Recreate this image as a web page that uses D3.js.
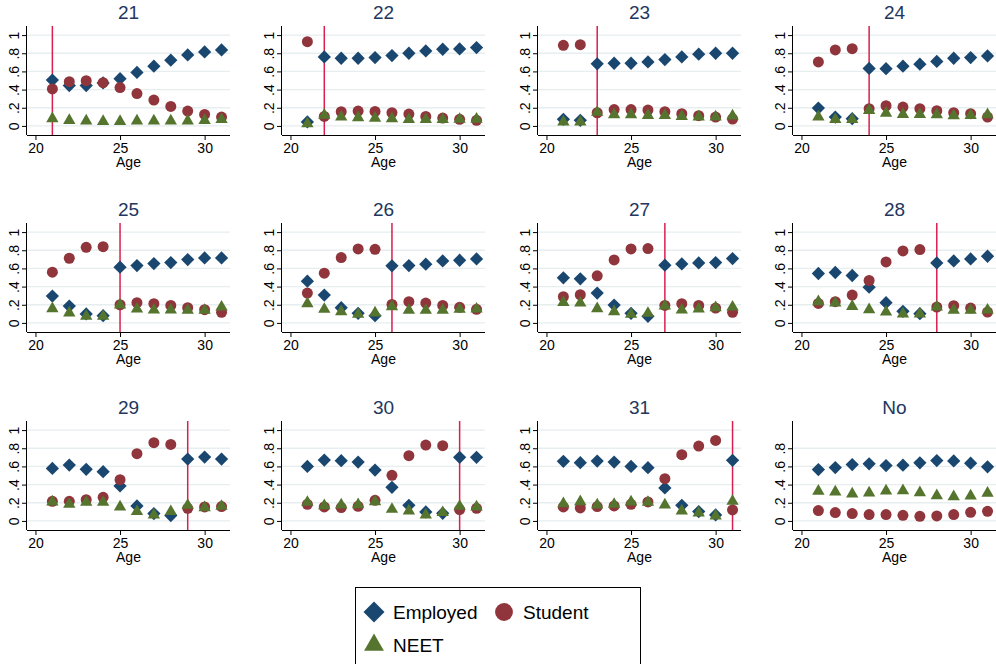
<!DOCTYPE html>
<html>
<head>
<meta charset="utf-8">
<script src="https://cdn.jsdelivr.net/npm/d3@7"></script>
<style>
  html, body { margin: 0; padding: 0; background: #fff; }
  svg { display: block; font-family: "Liberation Sans", Arial, Helvetica, sans-serif; }
</style>
</head>
<body>
<svg id="chart" width="996" height="664"></svg>
<script>
// ---- data ----
const ages = [21, 22, 23, 24, 25, 26, 27, 28, 29, 30, 31];
const panels = ["21", "22", "23", "24", "25", "26", "27", "28", "29", "30", "31", "No"];
const cutoffs = [21, 22, 23, 24, 25, 26, 27, 28, 29, 30, 31, null];
const xTicks = [20, 25, 30];
const yTicks = [0, 0.2, 0.4, 0.6, 0.8, 1];
const yTicksNo = [0, 0.2, 0.4, 0.6, 0.8];
const yTickLabels = ["0", ".2", ".4", ".6", ".8", "1"];
const seriesNames = ["Employed", "Student", "NEET"];

const employed = [
  [0.505, 0.444, 0.444, 0.473, 0.52, 0.589, 0.658, 0.724, 0.782, 0.815, 0.836],
  [0.044, 0.76, 0.745, 0.745, 0.753, 0.775, 0.80, 0.825, 0.844, 0.847, 0.862],
  [0.073, 0.062, 0.684, 0.69, 0.69, 0.705, 0.73, 0.76, 0.79, 0.80, 0.80],
  [0.196, 0.098, 0.08, 0.633, 0.63, 0.658, 0.68, 0.71, 0.745, 0.753, 0.77],
  [0.296, 0.186, 0.099, 0.08, 0.613, 0.631, 0.653, 0.664, 0.697, 0.715, 0.715],
  [0.46, 0.307, 0.168, 0.106, 0.08, 0.628, 0.631, 0.646, 0.682, 0.69, 0.704],
  [0.496, 0.485, 0.328, 0.197, 0.106, 0.073, 0.635, 0.65, 0.66, 0.664, 0.708],
  [0.544, 0.555, 0.522, 0.394, 0.223, 0.128, 0.102, 0.66, 0.682, 0.704, 0.734],
  [0.578, 0.615, 0.568, 0.542, 0.385, 0.165, 0.081, 0.059, 0.681, 0.703, 0.681],
  [0.60, 0.67, 0.663, 0.648, 0.56, 0.37, 0.172, 0.099, 0.084, 0.70, 0.70],
  [0.656, 0.641, 0.659, 0.648, 0.60, 0.586, 0.363, 0.172, 0.103, 0.066, 0.667],
  [0.565, 0.587, 0.62, 0.628, 0.609, 0.613, 0.639, 0.664, 0.661, 0.635, 0.595]
];
const student = [
  [0.407, 0.487, 0.498, 0.476, 0.422, 0.356, 0.284, 0.215, 0.164, 0.127, 0.098],
  [0.927, 0.105, 0.156, 0.164, 0.16, 0.145, 0.131, 0.105, 0.087, 0.073, 0.062],
  [0.887, 0.894, 0.145, 0.18, 0.18, 0.175, 0.156, 0.135, 0.113, 0.098, 0.076],
  [0.705, 0.836, 0.85, 0.19, 0.222, 0.207, 0.19, 0.167, 0.145, 0.135, 0.098],
  [0.558, 0.712, 0.832, 0.839, 0.20, 0.223, 0.212, 0.193, 0.168, 0.146, 0.117],
  [0.328, 0.547, 0.719, 0.814, 0.81, 0.204, 0.234, 0.219, 0.193, 0.172, 0.15],
  [0.288, 0.31, 0.518, 0.693, 0.814, 0.818, 0.193, 0.212, 0.193, 0.164, 0.117],
  [0.215, 0.234, 0.307, 0.467, 0.672, 0.792, 0.807, 0.175, 0.19, 0.164, 0.12],
  [0.216, 0.216, 0.234, 0.26, 0.454, 0.74, 0.861, 0.842, 0.139, 0.154, 0.158],
  [0.183, 0.154, 0.147, 0.161, 0.227, 0.502, 0.718, 0.835, 0.828, 0.125, 0.139],
  [0.154, 0.143, 0.158, 0.165, 0.183, 0.209, 0.465, 0.729, 0.824, 0.886, 0.121],
  [0.114, 0.092, 0.081, 0.07, 0.07, 0.062, 0.051, 0.055, 0.07, 0.095, 0.106]
];
const neet = [
  [0.08, 0.06, 0.055, 0.05, 0.05, 0.055, 0.055, 0.055, 0.055, 0.06, 0.07],
  [0.025, 0.118, 0.098, 0.09, 0.085, 0.08, 0.07, 0.07, 0.07, 0.073, 0.075],
  [0.045, 0.045, 0.15, 0.125, 0.125, 0.115, 0.115, 0.105, 0.10, 0.10, 0.11],
  [0.10, 0.07, 0.07, 0.17, 0.14, 0.127, 0.127, 0.124, 0.113, 0.116, 0.124],
  [0.157, 0.11, 0.073, 0.073, 0.197, 0.153, 0.142, 0.142, 0.139, 0.139, 0.175],
  [0.212, 0.15, 0.124, 0.095, 0.11, 0.179, 0.139, 0.139, 0.139, 0.15, 0.153],
  [0.226, 0.219, 0.157, 0.124, 0.095, 0.106, 0.186, 0.142, 0.153, 0.168, 0.175],
  [0.234, 0.219, 0.182, 0.146, 0.12, 0.099, 0.099, 0.175, 0.139, 0.139, 0.142],
  [0.209, 0.183, 0.205, 0.205, 0.154, 0.103, 0.066, 0.103, 0.172, 0.147, 0.161],
  [0.205, 0.168, 0.176, 0.179, 0.212, 0.128, 0.11, 0.066, 0.092, 0.161, 0.154],
  [0.19, 0.212, 0.176, 0.183, 0.209, 0.205, 0.176, 0.11, 0.088, 0.055, 0.216],
  [0.327, 0.319, 0.297, 0.308, 0.33, 0.334, 0.312, 0.279, 0.268, 0.275, 0.305]
];

// ---- styles ----
const colEmp = "#1a476f", colStu = "#90353b", colNeet = "#55752f";
const gridCol = "#e6eef0", refCol = "#d81f4f", titleCol = "#22365e";

const svg = d3.select("#chart");
const colLeft = [27, 282, 538, 793];
const rowTop = [26, 223, 421];
const pw = 203, ph = 109;

const diamond = d3.symbol().type(d3.symbolSquare).size(88)();
const circle = d3.symbol().type(d3.symbolCircle).size(95)();
const triangle = d3.symbol().type(d3.symbolTriangle).size(66)();

panels.forEach((name, i) => {
  const c = i % 4, r = Math.floor(i / 4);
  const g = svg.append("g").attr("transform", `translate(${colLeft[c]},${rowTop[r]})`);
  const x = d3.scaleLinear().domain([19.5, 31.5]).range([0, pw]);
  const y = d3.scaleLinear().domain([-0.1, 1.1]).range([ph, 0]);
  const yt = name === "No" ? yTicksNo : yTicks;

  // gridlines
  g.append("g").selectAll("line").data(yt).join("line")
    .attr("x1", 0).attr("x2", pw)
    .attr("y1", d => y(d)).attr("y2", d => y(d))
    .attr("stroke", gridCol).attr("stroke-width", 1.3);

  // title
  g.append("text").attr("x", pw / 2).attr("y", -7)
    .attr("text-anchor", "middle").attr("font-size", 19)
    .attr("fill", titleCol).text(name);

  // x axis
  const xa = g.append("g").attr("transform", `translate(0,${ph})`)
    .call(d3.axisBottom(x).tickValues(xTicks).tickSize(5).tickPadding(3).tickFormat(d3.format("d")));
  xa.select(".domain").attr("d", `M0,0.5H${pw}`).attr("stroke", "#000");
  xa.selectAll("text").attr("font-size", 14).attr("font-family", "Liberation Sans, Arial, sans-serif").attr("fill", "#000");
  xa.selectAll(".tick line").attr("stroke", "#000");

  g.append("text").attr("x", pw / 2).attr("y", ph + 32)
    .attr("text-anchor", "middle").attr("font-size", 14).attr("fill", "#000").text("Age");

  // y axis
  const ya = g.append("g")
    .call(d3.axisLeft(y).tickValues(yt).tickSize(5).tickFormat((d) => yTickLabels[yTicks.indexOf(d)]));
  ya.select(".domain").attr("d", `M-0.5,0V${ph}`).attr("stroke", "#000");
  ya.selectAll(".tick line").attr("stroke", "#000");
  ya.selectAll(".tick text")
    .attr("x", null).attr("dy", null)
    .attr("transform", "translate(-8,0) rotate(-90)")
    .attr("text-anchor", "middle")
    .attr("font-size", 14).attr("font-family", "Liberation Sans, Arial, sans-serif").attr("fill", "#000");

  // reference line
  if (cutoffs[i] !== null) {
    g.append("line").attr("x1", x(cutoffs[i])).attr("x2", x(cutoffs[i]))
      .attr("y1", 0).attr("y2", ph).attr("stroke", refCol).attr("stroke-width", 1.5);
  }

  // markers: Employed, Student, NEET
  g.append("g").selectAll("path").data(ages.map((a, k) => [a, employed[i][k]])).join("path")
    .attr("d", diamond).attr("fill", colEmp)
    .attr("transform", d => `translate(${x(d[0])},${y(d[1])}) rotate(45)`);
  g.append("g").selectAll("path").data(ages.map((a, k) => [a, student[i][k]])).join("path")
    .attr("d", circle).attr("fill", colStu)
    .attr("transform", d => `translate(${x(d[0])},${y(d[1])})`);
  g.append("g").selectAll("path").data(ages.map((a, k) => [a, neet[i][k]])).join("path")
    .attr("d", triangle).attr("fill", colNeet)
    .attr("transform", d => `translate(${x(d[0])},${y(d[1])})`);
});

// legend
const lg = svg.append("g");
lg.append("rect").attr("x", 355.5).attr("y", 587.5).attr("width", 285).attr("height", 90)
  .attr("fill", "#fff").attr("stroke", "#000").attr("stroke-width", 1);
const legendItems = [
  { name: seriesNames[0], sym: d3.symbol().type(d3.symbolSquare).size(220)(), col: colEmp, rot: 45, lx: 374, ly: 612 },
  { name: seriesNames[1], sym: d3.symbol().type(d3.symbolCircle).size(250)(), col: colStu, rot: 0, lx: 504, ly: 612 },
  { name: seriesNames[2], sym: d3.symbol().type(d3.symbolTriangle).size(170)(), col: colNeet, rot: 0, lx: 374, ly: 645 }
];
legendItems.forEach(it => {
  lg.append("path").attr("d", it.sym).attr("fill", it.col)
    .attr("transform", `translate(${it.lx},${it.ly}) rotate(${it.rot})`);
  lg.append("text").attr("x", it.lx + 19).attr("y", it.ly + 7)
    .attr("font-size", 19).attr("fill", "#000").text(it.name);
});
</script>
</body>
</html>
